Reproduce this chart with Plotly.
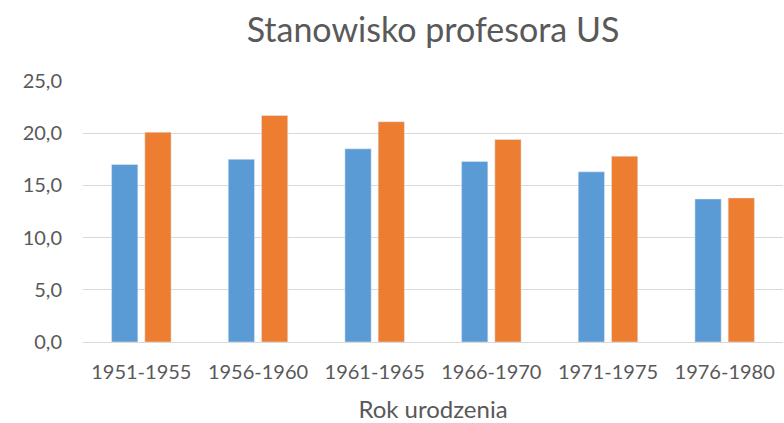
import plotly.graph_objects as go

categories = ["1951-1955", "1956-1960", "1961-1965", "1966-1970", "1971-1975", "1976-1980"]
series_a = [17.0, 17.5, 18.5, 17.3, 16.3, 13.7]
series_b = [20.1, 21.7, 21.1, 19.4, 17.8, 13.8]
y_ticks = [0, 5, 10, 15, 20, 25]

fig = go.Figure()
fig.add_trace(go.Bar(x=categories, y=series_a, name="Seria 1", marker_color="#5B9BD5"))
fig.add_trace(go.Bar(x=categories, y=series_b, name="Seria 2", marker_color="#ED7D31"))

font_family = "Lato, 'Open Sans', sans-serif"
fig.update_layout(
    width=784, height=423,
    margin=dict(l=83, r=1, t=81, b=81, autoexpand=False),
    paper_bgcolor="white", plot_bgcolor="white",
    barmode="group", bargap=0.43, bargroupgap=0.21,
    showlegend=False,
    separators=", ",
    font=dict(family=font_family, color="#595959", size=20),
    title=dict(text="Stanowisko profesora US", x=0.5, xref="paper", xanchor="center",
               y=1 - 30 / 423, yref="container", yanchor="middle",
               font=dict(size=34, color="#595959")),
)
fig.update_yaxes(range=[0, 25], tickvals=y_ticks, tickformat=".1f",
                 gridcolor="#D9D9D9", gridwidth=1, zeroline=False,
                 showline=False, ticklabelstandoff=20, automargin=False)
fig.update_xaxes(title=dict(text="Rok urodzenia", font=dict(size=24), standoff=20),
                 showline=True, linecolor="#D9D9D9", linewidth=1,
                 ticklabelstandoff=12, automargin=False)

# the page body has a default 8px margin; drop it so the chart sits at 0,0
fig.write_html("out.html", config={"displayModeBar": False},
               post_script="document.body.style.margin='0';")
